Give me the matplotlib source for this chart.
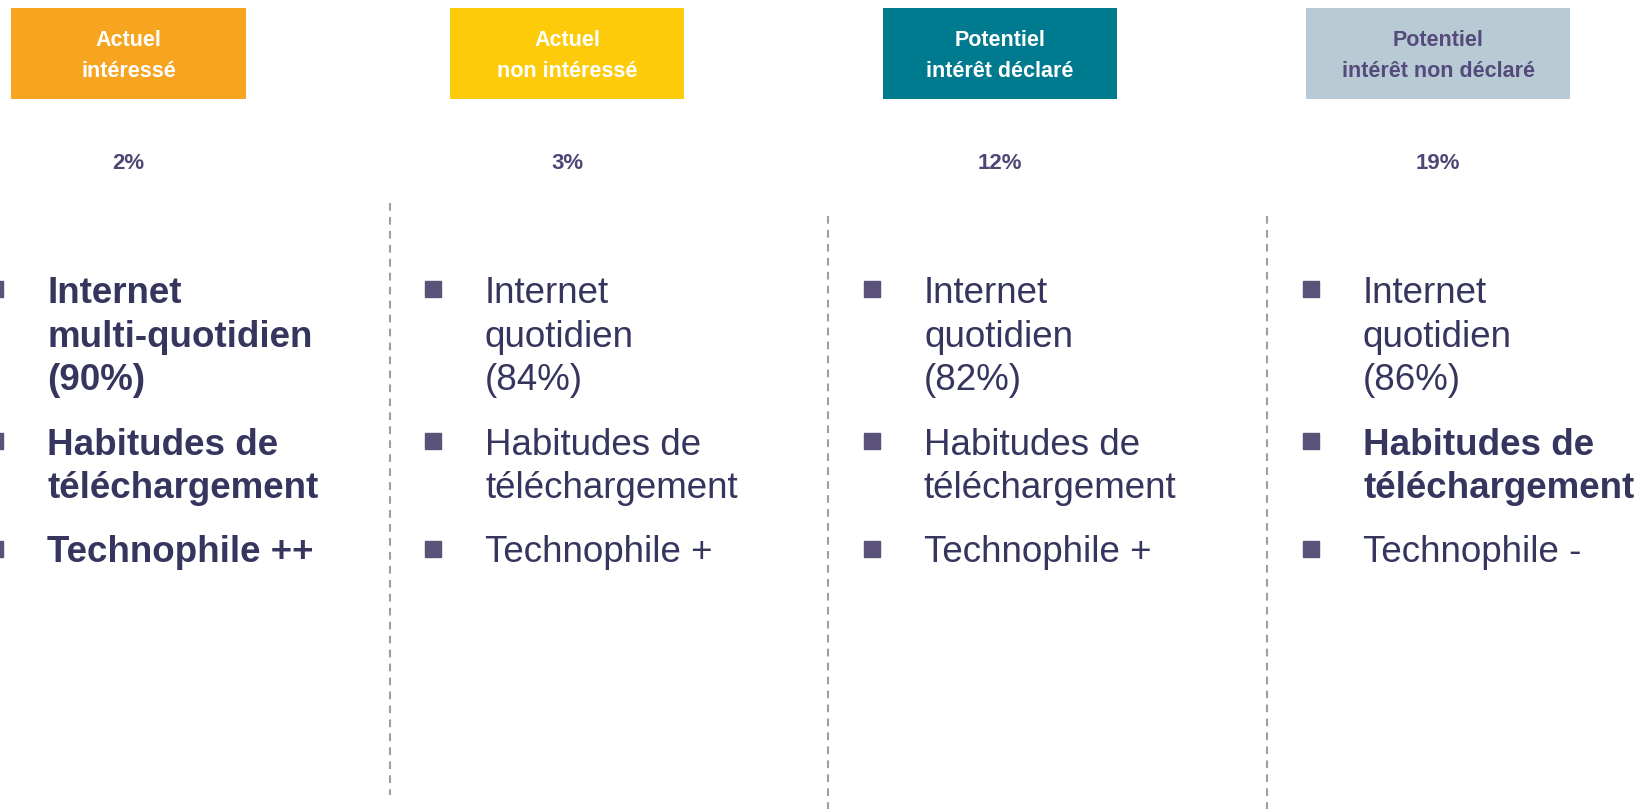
import matplotlib
matplotlib.use("Agg")
from matplotlib import pyplot as plt
from matplotlib.patches import Rectangle

# données des quatre segments
segment_l1 = ["Actuel", "Actuel", "Potentiel", "Potentiel"]
segment_l2 = ["intéressé", "non intéressé", "intérêt déclaré", "intérêt non déclaré"]
parts = [2, 3, 12, 19]  # poids du segment en %
internet_freq = ["multi-quotidien", "quotidien", "quotidien", "quotidien"]
internet_pct = [90, 84, 82, 86]
technophile = ["++", "+", "+", "-"]
# quels items sont en gras (internet, téléchargement, technophile)
gras = [(True, True, True), (False, False, False), (False, False, False), (False, True, False)]

box_colors = ["#F7A520", "#FECB0A", "#007A8E", "#B8CBD5"]
head_colors = ["white", "white", "white", "#544B7C"]
txt_color = "#35355E"
pct_color = "#4D4775"
bullet_color = "#5A5279"
dash_color = "#A89C9B"

body = ["Liberation Sans", "DejaVu Sans"]

fig = plt.figure(figsize=(16.5, 8.09), dpi=100)
ax = fig.add_axes([0, 0, 1, 1])
ax.set_xlim(0, 1650)
ax.set_ylim(809, 0)
ax.axis("off")

# en-têtes
box_x = [11, 450, 883, 1306]
box_w = [235, 234, 234, 264]
for i in range(4):
    ax.add_patch(Rectangle((box_x[i], 8), box_w[i], 91, color=box_colors[i], lw=0))
    cx = box_x[i] + box_w[i] / 2
    ax.text(cx, 46, segment_l1[i], ha="center", va="baseline", fontsize=15.5,
            fontweight="bold", color=head_colors[i], family=body)
    ax.text(cx, 77, segment_l2[i], ha="center", va="baseline", fontsize=15.5,
            fontweight="bold", color=head_colors[i], family=body)
    ax.text(cx, 169, f"{parts[i]}%", ha="center", va="baseline", fontsize=16,
            fontweight="bold", color=pct_color, family=body)

# séparateurs pointillés
sep_x = [390, 828, 1267]
sep_y0 = [203, 216, 216]
sep_y1 = [795, 809, 809]
for x, y0, y1 in zip(sep_x, sep_y0, sep_y1):
    ax.plot([x, x], [y0, y1], color=dash_color, lw=1.5, linestyle=(0, (3.7, 3)))

# listes à puces
text_x = [47, 485, 924, 1363]
step = 43.5
for i in range(4):
    items = [
        ["Internet", internet_freq[i], f"({internet_pct[i]}%)"],
        ["Habitudes de", "téléchargement"],
        [f"Technophile {technophile[i]}"],
    ]
    y = 303
    for k, lines in enumerate(items):
        w = "bold" if gras[i][k] else "normal"
        ax.plot(text_x[i] - 52, y - 14, marker="s", ms=11, color=bullet_color,
                clip_on=False)
        for line in lines:
            ax.text(text_x[i], y, line, ha="left", va="baseline", fontsize=26.5,
                    fontweight=w, color=txt_color, family=body)
            y += step
        y += 21

fig.savefig("out.png", dpi=100)
